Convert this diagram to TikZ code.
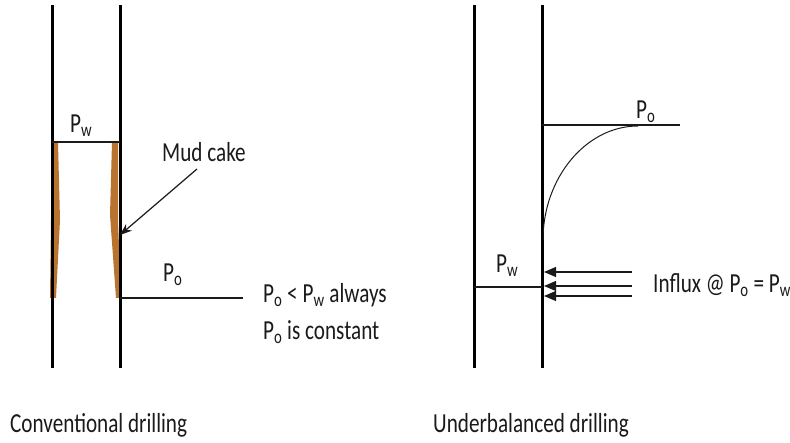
\documentclass[tikz,border=0pt]{standalone}
\usepackage{fontspec}
\setmainfont{Carlito}[FakeStretch=0.77]
\usetikzlibrary{arrows.meta,positioning}
\definecolor{mudcake}{HTML}{B8732F}
\definecolor{ink}{HTML}{1A1A1A}
\tikzset{
  wall/.style={line width=3pt,draw=black},
  level/.style={line width=1.2pt,draw=ink},
  cake/.style={fill=mudcake,draw=none},
  lbl/.style={font=\fontsize{27.5}{30}\selectfont,inner sep=0pt,anchor=base west,text=ink},
  arr/.style={-{Stealth[length=12pt,width=9pt]},line width=1.2pt,draw=ink},
  influx/.style={-{Triangle[length=12pt,width=10pt]},line width=1.1pt,draw=ink}
}
\newcommand{\Po}{P\textsubscript{o}}
\newcommand{\Pw}{P\textsubscript{w}}

\begin{document}
\begin{tikzpicture}[x=1pt,y=-1pt]
\useasboundingbox (0,0) rectangle (790,443);
% conventional drilling
\fill[cake] (53,142) -- (58,142) -- (60,220) -- (56,298) -- (50,298) -- (51,220) -- cycle;
\fill[cake] (112,142) -- (118,142) -- (118,220) -- (121,298) -- (116,298) -- (110,215) -- cycle;
\coordinate (cl-top) at (52,5);  \coordinate (cl-bot) at (52,368);
\coordinate (cr-top) at (120,5); \coordinate (cr-bot) at (120,368);
\draw[wall] (cl-top) -- (cl-bot);
\draw[wall] (cr-top) -- (cr-bot);
\coordinate (pw-a) at (52,142); \coordinate (pw-b) at (120,142);
\draw[level] (pw-a) -- (pw-b);
\node[lbl] (pwl) at (70,133) {\Pw};
\coordinate (po-a) at (120,298); \coordinate (po-b) at (243,298);
\draw[level] (po-a) -- (po-b);
\node[lbl] (pol) at (163,282) {\Po};
\node[lbl] (mud) at (162,162) {Mud cake};
\coordinate (mud-tail) at (197,169);
\coordinate (mud-tip) at (120,235);
\draw[arr] (mud-tail) -- (mud-tip);
\node[lbl] (always) at (263,303) {\Po{} < \Pw{} always};
\node[lbl] (const) at (263,340) {\Po{} is constant};
\node[lbl] (conv) at (10,432) {Conventional drilling};
% underbalanced drilling
\coordinate (ul-top) at (474,5);  \coordinate (ul-bot) at (474,368);
\coordinate (ur-top) at (542,5);  \coordinate (ur-bot) at (542,368);
\draw[wall] (ul-top) -- (ul-bot);
\draw[wall] (ur-top) -- (ur-bot);
\coordinate (upo-a) at (542,125); \coordinate (upo-b) at (680,125);
\draw[level] (upo-a) -- (upo-b);
\node[lbl] (upol) at (636,119) {\Po};
\coordinate (cs) at (543,240); \coordinate (ce) at (638,126);
\draw[line width=1pt,draw=ink] (cs) .. controls (543,178) and (586,126) .. (ce);
\coordinate (upw-a) at (474,287); \coordinate (upw-b) at (542,287);
\draw[level] (upw-a) -- (upw-b);
\node[lbl] (upwl) at (496,273) {\Pw};
\foreach \y [count=\i] in {272,286,296}{
  \coordinate (f\i) at (632,\y);
  \coordinate (w\i) at (544,\y);
  \draw[influx] (f\i) -- (w\i);
}
\node[lbl] (influx) at (653,293) {Influx @ \Po{} = \Pw};
\node[lbl] (under) at (433,432) {Underbalanced drilling};
\end{tikzpicture}
\end{document}
